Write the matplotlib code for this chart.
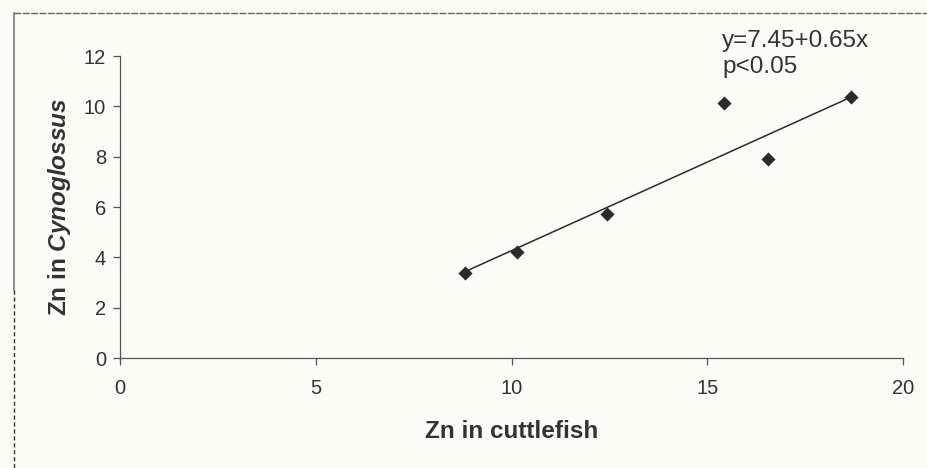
import numpy as np
import matplotlib

matplotlib.use("Agg")
import matplotlib.pyplot as plt
from matplotlib.lines import Line2D

# values
zn_cuttlefish = [8.81, 10.15, 12.43, 15.43, 16.56, 18.66]
zn_cynoglossus = [3.36, 4.22, 5.71, 10.14, 7.89, 10.36]
trend_x = [8.81, 18.69]
trend_y = [3.43, 10.38]
x_ticks = [0, 5, 10, 15, 20]
y_ticks = [0, 2, 4, 6, 8, 10, 12]

plt.rcParams["font.family"] = ["Liberation Sans", "DejaVu Sans"]
plt.rcParams["mathtext.fontset"] = "custom"
plt.rcParams["mathtext.rm"] = "Liberation Sans"
plt.rcParams["mathtext.bfit"] = "Liberation Sans:italic:bold"

W, H = 928.0, 468.0
fig = plt.figure(figsize=(9.28, 4.68), dpi=100, facecolor="#fcfcf6")
ax = fig.add_axes([0.1293, 0.235, 0.8438, 0.6453])
ax.set_facecolor("#fcfcf6")

ax.scatter(zn_cuttlefish, zn_cynoglossus, marker="D", s=52, color="#2b2b2b",
           zorder=3, linewidths=0)
ax.plot(trend_x, trend_y, color="#2b2b2b", lw=1.1, zorder=2)

ax.set_xlim(0, 20)
ax.set_ylim(0, 12)
ax.set_xticks(x_ticks)
ax.set_yticks(y_ticks)
for side in ("top", "right"):
    ax.spines[side].set_visible(False)
for side in ("left", "bottom"):
    ax.spines[side].set_color("#555555")
    ax.spines[side].set_linewidth(0.9)
ax.tick_params(direction="out", length=5, width=0.9, color="#555555",
               labelsize=14.5, labelcolor="#333333", pad=5)
ax.tick_params(axis="x", pad=10)

ax.set_xlabel("Zn in cuttlefish", fontsize=17.5, fontweight="bold",
              color="#333333", labelpad=16)
ax.set_ylabel("Zn in $\\mathbfit{Cynoglossus}$", fontsize=17.5,
              fontweight="bold", color="#333333", labelpad=8)

# regression annotation
ax.text(15.38, 12.36, "y=7.45+0.65x", fontsize=17.5, color="#333333",
        va="baseline", ha="left", clip_on=False)
ax.text(15.38, 11.32, "p<0.05", fontsize=17.5, color="#333333",
        va="baseline", ha="left", clip_on=False)

# scan frame around the chart
top = 1 - 13 / H
left = 14 / W
fig.add_artist(Line2D([left, 1.0], [top, top], color="#666666",
                      lw=1.0, ls=(0, (5, 1))))
fig.add_artist(Line2D([left, left], [top, 1 - 290 / H], color="#777777", lw=1.2))
fig.add_artist(Line2D([left, left], [1 - 290 / H, 0.0], color="#333333", lw=1.0,
                      ls=(0, (3, 2))))

fig.savefig("out.png", dpi=100, facecolor=fig.get_facecolor())
